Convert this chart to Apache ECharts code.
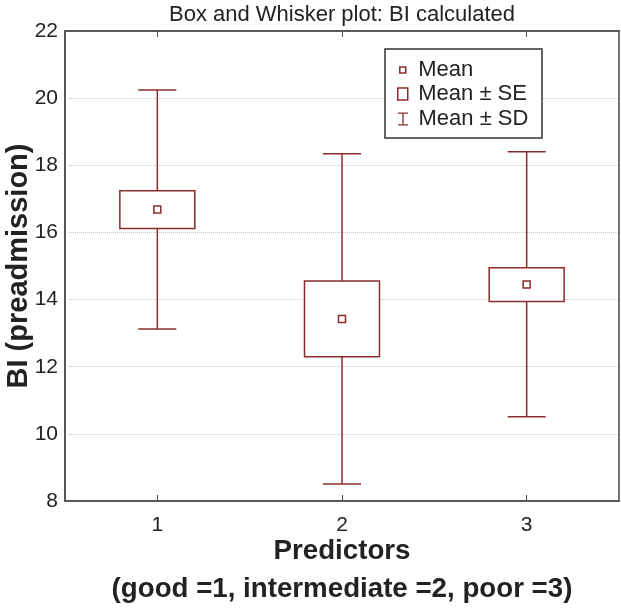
<!DOCTYPE html>
<html><head><meta charset="utf-8">
<script src="https://cdn.jsdelivr.net/npm/echarts@6/dist/echarts.min.js"></script>
<style>html,body{margin:0;padding:0;background:#fff}#c{width:621px;height:608px}</style>
</head><body><div id="c"></div>
<script>
// ---- data ----
const categories = ['1', '2', '3'];
const meanValues = [16.68, 13.42, 14.45];
const seLower = [16.12, 12.30, 13.94];
const seUpper = [17.24, 14.55, 14.95];
const sdLower = [13.12, 8.51, 10.51];
const sdUpper = [20.24, 18.34, 18.40];
const yMin = 8, yMax = 22, yStep = 2;
const titleText = 'Box and Whisker plot: BI calculated';
const xName = 'Predictors\n(good =1, intermediate =2, poor =3)';
const yName = 'BI (preadmission)';
const legendNames = ['Mean', 'Mean ± SE', 'Mean ± SD'];

// ---- style ----
const RED = '#8b2c2c';
const AXIS = '#4a4a4a';
const TXT = '#222';
const FONT = '"Liberation Sans", Arial, Helvetica, sans-serif';

const chart = echarts.init(document.getElementById('c'), null, {renderer: 'canvas'});

const sdData = categories.map((c, i) => [i, sdLower[i], sdUpper[i]]);
const seData = categories.map((c, i) => [i, seLower[i], seUpper[i]]);
const meanData = categories.map((c, i) => [i, meanValues[i]]);

const legendText = {fontSize: 22, color: TXT, fontFamily: FONT, lineHeight: 24};

const option = {
  animation: false,
  backgroundColor: '#fff',
  title: {
    text: titleText, left: 337, top: -1, textAlign: 'center',
    textStyle: {fontSize: 22, fontWeight: 'normal', color: TXT, fontFamily: FONT}
  },
  grid: {left: 65, right: 2, top: 31, bottom: 107, show: true, borderColor: AXIS, borderWidth: 1.5,
         backgroundColor: 'transparent', containLabel: false, outerBoundsMode: 'none'},
  graphic: [{
    type: 'rect', z: 5,
    shape: {x: 385, y: 49, width: 157, height: 89},
    style: {fill: '#fff', stroke: '#333', lineWidth: 1.5}
  }],
  legend: [
    {data: [{name: legendNames[0], icon: 'path://M0,0H1V1H0Z', itemStyle: {color: '#fff', borderColor: RED, borderWidth: 1.5}}],
     left: 399, top: 58, itemWidth: 21, itemHeight: 6, padding: 0, selectedMode: false, z: 10, textStyle: legendText},
    {data: [{name: legendNames[1], icon: 'path://M0,0H10V12H0Z', itemStyle: {color: '#fff', borderColor: RED, borderWidth: 1.5}}],
     left: 397, top: 82, itemWidth: 21, itemHeight: 12, padding: 0, selectedMode: false, z: 10, textStyle: legendText},
    {data: [{name: legendNames[2], icon: 'path://M0,0H10V1.3H5.65V11.7H10V13H0V11.7H4.35V1.3H0Z', itemStyle: {color: RED, borderWidth: 0}}],
     left: 398, top: 107, itemWidth: 21, itemHeight: 13, padding: 0, selectedMode: false, z: 10, textStyle: legendText}
  ],
  xAxis: [{
    type: 'category', data: categories, position: 'bottom', boundaryGap: true,
    axisLine: {show: true, lineStyle: {color: AXIS, width: 1.5}},
    axisTick: {show: true, inside: true, alignWithLabel: true, length: 6, lineStyle: {color: AXIS, width: 1}},
    axisLabel: {fontSize: 21, color: TXT, margin: 14, fontFamily: FONT},
    splitLine: {show: false},
    name: xName, nameLocation: 'middle', nameGap: 31, nameMoveOverlap: false,
    nameTextStyle: {fontSize: 27.7, fontWeight: 'bold', color: TXT, fontFamily: FONT, lineHeight: 38}
  }, {
    type: 'category', data: categories, position: 'top', boundaryGap: true,
    axisLine: {show: true, lineStyle: {color: AXIS, width: 1.5}},
    axisTick: {show: true, inside: true, alignWithLabel: true, length: 6, lineStyle: {color: AXIS, width: 1}},
    axisLabel: {show: false}, splitLine: {show: false}
  }],
  yAxis: {
    type: 'value', min: yMin, max: yMax, interval: yStep,
    axisLine: {show: true, lineStyle: {color: AXIS, width: 1.5}},
    axisTick: {show: false},
    axisLabel: {fontSize: 21, color: TXT, margin: 7, fontFamily: FONT},
    splitLine: {show: true, lineStyle: {color: '#c8c8c8', type: 'dotted', width: 1}},
    name: yName, nameLocation: 'middle', nameGap: 32, nameRotate: 90, nameMoveOverlap: false,
    nameTextStyle: {fontSize: 29, fontWeight: 'bold', color: TXT, fontFamily: FONT}
  },
  series: [{
    name: legendNames[2], type: 'custom', z: 3,
    itemStyle: {color: RED},
    data: sdData,
    encode: {x: 0, y: [1, 2]},
    renderItem: function (params, api) {
      const x = api.value(0);
      const lo = api.coord([x, api.value(1)]);
      const hi = api.coord([x, api.value(2)]);
      const half = api.size([1, 0])[0] * 0.103;
      const st = {stroke: RED, lineWidth: 1.5};
      return {type: 'group', children: [
        {type: 'line', shape: {x1: lo[0], y1: lo[1], x2: hi[0], y2: hi[1]}, style: st},
        {type: 'line', shape: {x1: lo[0] - half, y1: lo[1], x2: lo[0] + half, y2: lo[1]}, style: st},
        {type: 'line', shape: {x1: hi[0] - half, y1: hi[1], x2: hi[0] + half, y2: hi[1]}, style: st}
      ]};
    }
  }, {
    name: legendNames[1], type: 'custom', z: 4,
    itemStyle: {color: RED},
    data: seData,
    encode: {x: 0, y: [1, 2]},
    renderItem: function (params, api) {
      const x = api.value(0);
      const lo = api.coord([x, api.value(1)]);
      const hi = api.coord([x, api.value(2)]);
      const half = api.size([1, 0])[0] * 0.203;
      return {type: 'rect', shape: {x: lo[0] - half, y: hi[1], width: 2 * half, height: lo[1] - hi[1]},
        style: {fill: '#fff', stroke: RED, lineWidth: 1.5}};
    }
  }, {
    name: legendNames[0], type: 'scatter', z: 6,
    symbol: 'rect', symbolSize: 7,
    itemStyle: {color: '#fff', borderColor: RED, borderWidth: 1.5, opacity: 1},
    data: meanData
  }]
};
chart.setOption(option);
</script></body></html>
